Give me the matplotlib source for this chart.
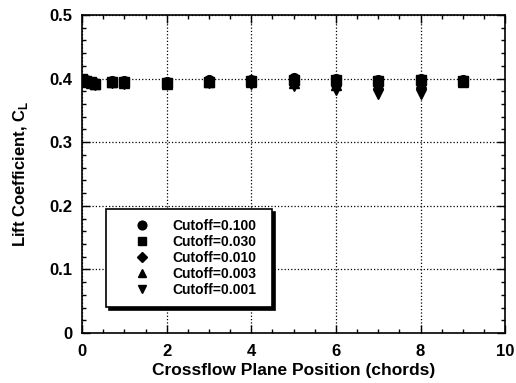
import numpy as np
import matplotlib
matplotlib.use("Agg")
import matplotlib.pyplot as plt
from matplotlib.ticker import MultipleLocator

plt.rcParams['font.family'] = ['Liberation Sans', 'DejaVu Sans']
plt.rcParams['font.weight'] = 'bold'
plt.rcParams['mathtext.fontset'] = 'custom'
plt.rcParams['mathtext.bf'] = 'Liberation Sans:bold'
plt.rcParams['mathtext.rm'] = 'Liberation Sans:bold'

# crossflow plane positions (chords)
positions = [0, 0.1, 0.2, 0.3, 0.7, 1, 2, 3, 4, 5, 6, 7, 8, 9]

# lift coefficient for each cutoff
cl_0100 = [0.400, 0.397, 0.395, 0.393, 0.396, 0.396, 0.394, 0.397, 0.398, 0.401, 0.400, 0.398, 0.400, 0.398]
cl_0030 = [0.399, 0.396, 0.394, 0.392, 0.395, 0.395, 0.393, 0.395, 0.396, 0.397, 0.397, 0.396, 0.398, 0.396]
cl_0010 = [0.398, 0.395, 0.393, 0.392, 0.394, 0.394, 0.393, 0.394, 0.395, 0.395, 0.394, 0.393, 0.395, 0.395]
cl_0003 = [0.398, 0.395, 0.393, 0.391, 0.394, 0.393, 0.392, 0.394, 0.394, 0.393, 0.390, 0.392, 0.393, 0.395]
cl_0001 = [0.397, 0.394, 0.392, 0.390, 0.393, 0.391, 0.391, 0.393, 0.391, 0.388, 0.382, 0.376, 0.375, 0.394]

labels = ["Cutoff=0.100", "Cutoff=0.030", "Cutoff=0.010", "Cutoff=0.003", "Cutoff=0.001"]
series = [cl_0100, cl_0030, cl_0010, cl_0003, cl_0001]
markers = ["o", "s", "D", "^", "v"]
sizes = [7, 7, 5.5, 7, 7]

fig = plt.figure(figsize=(5.16, 3.83), dpi=100)
ax = fig.add_axes([0.159, 0.1305, 0.82, 0.8305])

for y, m, ms, lab in zip(series, markers, sizes, labels):
    ax.plot(positions, y, linestyle="none", marker=m, ms=ms, color="k", label=lab)

ax.set_xlim(0, 10)
ax.set_ylim(0, 0.5)
ax.xaxis.set_minor_locator(MultipleLocator(0.5))
ax.yaxis.set_minor_locator(MultipleLocator(0.02))
ax.set_yticks([0, 0.1, 0.2, 0.3, 0.4, 0.5])
ax.set_yticklabels(["0", "0.1", "0.2", "0.3", "0.4", "0.5"])
ax.set_xticks([0, 2, 4, 6, 8, 10])
ax.set_xticklabels(["0", "2", "4", "6", "8", "10"])

ax.tick_params(which="both", direction="in", top=True, right=True, labelsize=12, width=1)
ax.tick_params(axis="y", which="major", length=6, pad=7)
ax.tick_params(axis="x", which="major", length=6, pad=8)
ax.tick_params(which="minor", length=3)
for s in ax.spines.values():
    s.set_linewidth(1.2)

ax.grid(True, which="major", linestyle=":", color="k", linewidth=0.9)

ax.set_xlabel("Crossflow Plane Position (chords)", fontsize=12.5, fontweight="bold", labelpad=3)
ax.set_ylabel(r"Lift Coefficient, C$_\mathbf{L}$", fontsize=12, fontweight="bold", labelpad=14)

leg = ax.legend(loc="lower left", bbox_to_anchor=(0.057, 0.082, 0.392, 0.318), mode="expand",
                frameon=True, fancybox=False, edgecolor="k", fontsize=10,
                shadow={"color": "k", "alpha": 1}, handletextpad=0.35, borderpad=0.7,
                labelspacing=0.15, handlelength=3.7, markerscale=0.9, borderaxespad=0)
leg.get_frame().set_linewidth(1.2)
for t in leg.get_texts():
    t.set_fontweight("bold")

fig.savefig("out.png", dpi=100)
